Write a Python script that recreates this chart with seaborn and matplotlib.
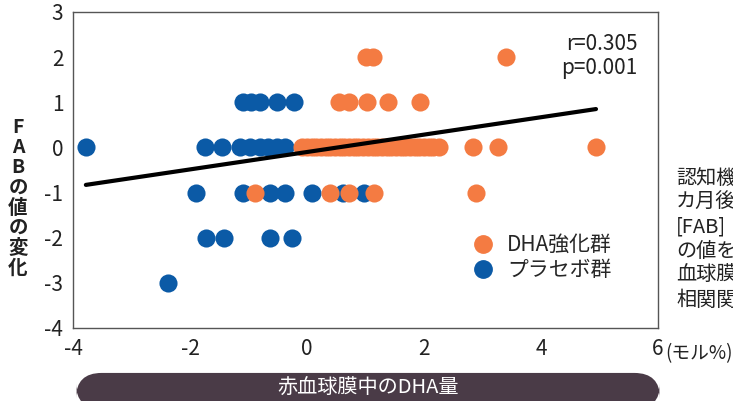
import matplotlib.pyplot as plt
import pandas as pd
import seaborn as sns
import numpy as np
from matplotlib.patches import FancyBboxPatch
from matplotlib.lines import Line2D

# データ
dha_x = [1.0, 1.12, 3.4,
         0.55, 0.72, 1.02, 1.38, 1.94,
         -0.08, 0.0, 0.08, 0.16, 0.24, 0.32, 0.4, 0.48, 0.56, 0.64, 0.72, 0.8,
         0.88, 0.96, 1.04, 1.12, 1.2, 1.28, 1.36, 1.44, 1.52, 1.6, 1.68, 1.76,
         1.84, 1.92, 2.0, 2.08, 2.16, 2.25, 2.83, 3.26, 4.94,
         -0.89, 0.40, 0.71, 1.15, 2.89]
dha_y = [2, 2, 2,
         1, 1, 1, 1, 1,
         0, 0, 0, 0, 0, 0, 0, 0, 0, 0, 0, 0,
         0, 0, 0, 0, 0, 0, 0, 0, 0, 0, 0, 0,
         0, 0, 0, 0, 0, 0, 0, 0, 0,
         -1, -1, -1, -1, -1]

pla_x = [-1.1, -0.95, -0.8, -0.52, -0.23,
         -3.78, -1.74, -1.46, -1.14, -0.97, -0.8, -0.66, -0.51, -0.37,
         -1.89, -1.09, -0.63, -0.37, 0.09, 0.62, 0.97,
         -1.72, -1.42, -0.63, -0.25,
         -2.38]
pla_y = [1, 1, 1, 1, 1,
         0, 0, 0, 0, 0, 0, 0, 0, 0,
         -1, -1, -1, -1, -1, -1, -1,
         -2, -2, -2, -2,
         -3]

# 回帰直線の両端
fit_x = [-3.78, 4.94]
fit_y = [-0.83, 0.85]

x_ticks = [-4, -2, 0, 2, 4, 6]
y_ticks = [-4, -3, -2, -1, 0, 1, 2, 3]

orange = '#F47B42'
blue = '#0B5AA6'

dha = pd.DataFrame({'x': dha_x, 'y': dha_y})
pla = pd.DataFrame({'x': pla_x, 'y': pla_y})
fit = pd.DataFrame({'x': fit_x, 'y': fit_y})

sns.set_style('white')
plt.rcParams['font.family'] = ['Noto Sans CJK JP', 'DejaVu Sans']
plt.rcParams['axes.unicode_minus'] = False

fig = plt.figure(figsize=(7.33, 4.01), dpi=100)
ax = fig.add_axes([73 / 733, 1 - 328 / 401, 585 / 733, 316 / 401])

sns.scatterplot(data=pla, x='x', y='y', color=blue, s=170, linewidth=0, ax=ax, zorder=2)
sns.scatterplot(data=dha, x='x', y='y', color=orange, s=170, linewidth=0, ax=ax, zorder=3)
sns.lineplot(data=fit, x='x', y='y', color='black', linewidth=3, ax=ax, zorder=4)

ax.set_xlim(-4, 6)
ax.set_ylim(-4, 3)
ax.set_xticks(x_ticks)
ax.set_yticks(y_ticks)
ax.set_xlabel('')
ax.set_ylabel('')
ax.tick_params(axis='both', direction='out', length=5, width=1, color='#555555',
               labelsize=15, labelcolor='#222222', pad=2)
for sp in ax.spines.values():
    sp.set_color('#555555')
    sp.set_linewidth(1)

ax.text(0.965, 0.935, 'r=0.305\np=0.001', transform=ax.transAxes, ha='right', va='top',
        fontsize=15, color='#222222', linespacing=1.15)

handles = [Line2D([], [], marker='o', linestyle='', markersize=12.5, color=orange),
           Line2D([], [], marker='o', linestyle='', markersize=12.5, color=blue)]
ax.legend(handles, ['DHA強化群', 'プラセボ群'], loc='upper left', bbox_to_anchor=(0.648, 0.33),
          frameon=False, fontsize=15, handletextpad=0.15, labelspacing=0.15, borderpad=0)

# y軸ラベル（縦書き）
fig.text(18 / 733, 1 - 198 / 401, '\n'.join('FABの値の変化'), ha='center', va='center',
         fontsize=14, fontweight='bold', color='#222222', linespacing=1.07)

fig.text(665 / 733, 1 - 354 / 401, '(モル%)', ha='left', va='center', fontsize=13.5, color='#222222')

# 下の帯
bar = FancyBboxPatch((76 / 733, -0.02), 584 / 733, 0.09, boxstyle='round,pad=0,rounding_size=0.035',
                     transform=fig.transFigure, facecolor='#4A3B47', edgecolor='none', mutation_aspect=1.8)
fig.patches.append(bar)
fig.text(368 / 733, 1 - 388 / 401, '赤血球膜中のDHA量', ha='center', va='center',
         fontsize=14.5, color='white')

# 右側の説明文（右端で切れている）
fig.text(676 / 733, 1 - 168 / 401, '認知機\nカ月後の\n[FAB]\nの値を\n血球膜\n相関関', ha='left', va='top',
         fontsize=14.5, color='#222222', linespacing=1.21)

fig.savefig('out.png', dpi=100)
